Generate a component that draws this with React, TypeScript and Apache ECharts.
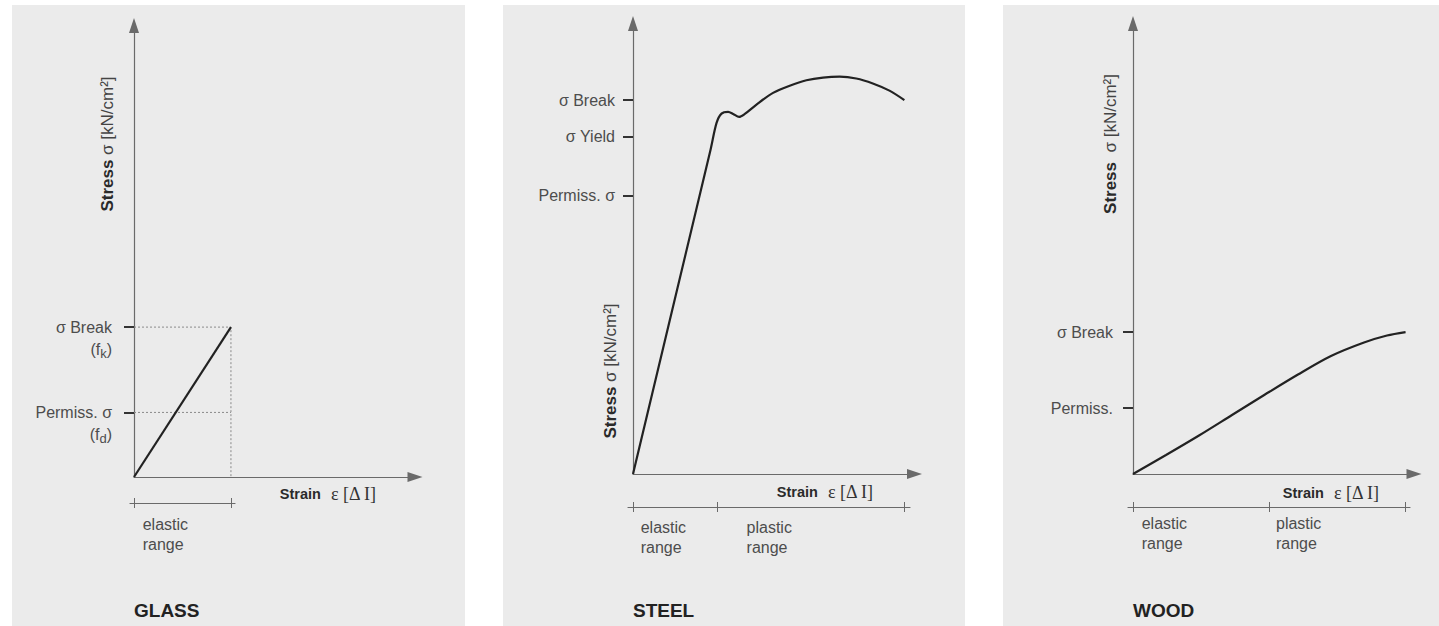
import React, { useEffect, useRef } from "react";
import * as echarts from "echarts";

// ---------------- DATA (normalised units: 0..100 along each drawn axis) ----------------
// GLASS
const glassTickValues = [14.3, 33.2];
const glassTickNames = ["Permiss. σ", "σ Break"];
const glassTickSubs = ["d", "k"];
const glassBreakStrain = 34.5;
const glassCurve: [number, number][] = [
  [0, 0],
  [34.5, 33.2],
];
const glassRangeTicks = [0, 34.5];
const glassRangeNames = ["elastic\nrange"];

// STEEL
const steelTickValues = [61.75, 74.85, 83.0];
const steelTickNames = ["Permiss. σ", "σ Yield", "σ Break"];
const steelCurve: [number, number][] = [
  [0, 0],
  [27.55, 72.0],
  [29.68, 77.93],
  [31.45, 80.0],
  [33.79, 80.38],
  [35.57, 79.93],
  [37.7, 79.27],
  [39.72, 79.93],
  [43.87, 82.0],
  [49.75, 84.6],
  [55.67, 86.2],
  [61.6, 87.4],
  [67.5, 88.0],
  [73.4, 88.2],
  [79.3, 87.8],
  [85.2, 86.7],
  [91.1, 85.1],
  [96.4, 83.0],
];
const steelRangeTicks = [0, 29.9, 96.4];
const steelRangeNames = ["elastic\nrange", "plastic\nrange"];

// WOOD
const woodTickValues = [14.65, 31.5];
const woodTickNames = ["Permiss.", "σ Break"];
const woodCurve: [number, number][] = [
  [0, 0],
  [11.74, 4.22],
  [23.49, 8.55],
  [35.23, 13.1],
  [46.98, 17.65],
  [58.72, 22.09],
  [70.46, 26.19],
  [82.21, 29.19],
  [90.39, 30.74],
  [97.0, 31.5],
];
const woodRangeTicks = [0, 48.5, 97.0];
const woodRangeNames = ["elastic\nrange", "plastic\nrange"];

// ---------------- LAYOUT ----------------
const FONT = "Liberation Sans";
const LABEL_COLOR = "#4d4d4d";
const AXIS_COLOR = "#6a6a6a";
const CURVE_COLOR = "#222222";
const PANEL_BG = "#ebebeb";

type Panel = {
  title: string;
  stressText: string;
  bgX: number;
  bgW: number;
  L: number;
  T: number;
  W: number;
  B: number;
  labelMargin: number;
  barY: number;
  barLeft: number;
  barRight: number;
  rangeLabelOffsets: number[];
  rangeLabelMargin: number;
  strainRight: number;
  strainY: number;
  stressX: number;
  stressY: number;
  ticks: number[];
  tickNames: string[];
  tickSubs?: string[];
  curve: [number, number][];
  smooth: number | boolean;
  rangeTicks: number[];
  rangeNames: string[];
};

const panels: Panel[] = [
  {
    title: "GLASS",
    stressText: "{b|Stress} σ [kN/cm²]",
    bgX: 12,
    bgW: 453,
    L: 134,
    T: 25.5,
    W: 281,
    B: 477,
    labelMargin: 22,
    barY: 503,
    barLeft: 130,
    barRight: 235,
    rangeLabelOffsets: [8.7],
    rangeLabelMargin: 11,
    strainRight: 376,
    strainY: 494,
    stressX: 107.5,
    stressY: 144,
    ticks: glassTickValues,
    tickNames: glassTickNames,
    tickSubs: glassTickSubs,
    curve: glassCurve,
    smooth: false,
    rangeTicks: glassRangeTicks,
    rangeNames: glassRangeNames,
  },
  {
    title: "STEEL",
    stressText: "{b|Stress} σ [kN/cm²]",
    bgX: 503,
    bgW: 462,
    L: 633,
    T: 23.5,
    W: 281.5,
    B: 474,
    labelMargin: 18,
    barY: 507,
    barLeft: 628,
    barRight: 910,
    rangeLabelOffsets: [7.7, 29.4],
    rangeLabelMargin: 10,
    strainRight: 873,
    strainY: 492,
    stressX: 610,
    stressY: 371,
    ticks: steelTickValues,
    tickNames: steelTickNames,
    curve: steelCurve,
    smooth: 0.3,
    rangeTicks: steelRangeTicks,
    rangeNames: steelRangeNames,
  },
  {
    title: "WOOD",
    stressText: "{b|Stress}  σ [kN/cm²]",
    bgX: 1003,
    bgW: 436,
    L: 1133,
    T: 23.5,
    W: 281,
    B: 474,
    labelMargin: 20,
    barY: 507,
    barLeft: 1128,
    barRight: 1410,
    rangeLabelOffsets: [8.7, 6.7],
    rangeLabelMargin: 6,
    strainRight: 1379,
    strainY: 493,
    stressX: 1110,
    stressY: 144,
    ticks: woodTickValues,
    tickNames: woodTickNames,
    curve: woodCurve,
    smooth: 0.3,
    rangeTicks: woodRangeTicks,
    rangeNames: woodRangeNames,
  },
];

function nearestIndex(arr: number[], v: number) {
  let best = 0;
  let d = Infinity;
  arr.forEach((a, i) => {
    const dd = Math.abs(a - v);
    if (dd < d) {
      d = dd;
      best = i;
    }
  });
  return best;
}

function buildOption() {
  const grid: any[] = [];
  const xAxis: any[] = [];
  const yAxis: any[] = [];
  const series: any[] = [];
  const graphic: any[] = [];

  panels.forEach((p, i) => {
    const H = p.B - p.T;
    grid.push({ left: p.L, top: p.T, width: p.W, height: H });
    grid.push({ left: p.barLeft, top: p.barY - 10, width: p.barRight - p.barLeft, height: 10 });

    const mainX = xAxis.length;
    xAxis.push({
      type: "value",
      gridIndex: 2 * i,
      min: 0,
      max: 100,
      axisLine: {
        show: true,
        onZero: false,
        symbol: ["none", "triangle"],
        symbolSize: [10, 15],
        lineStyle: { color: AXIS_COLOR, width: 1.2 },
      },
      axisTick: { show: false },
      axisLabel: { show: false },
      splitLine: { show: false },
    });

    const rMin = ((p.barLeft - p.L) / p.W) * 100;
    const rMax = ((p.barRight - p.L) / p.W) * 100;
    const labelValues = p.rangeNames.map((_, k) => p.rangeTicks[k] + (p.rangeLabelOffsets[k] / p.W) * 100);

    const rangeA = xAxis.length;
    xAxis.push({
      type: "value",
      gridIndex: 2 * i + 1,
      position: "bottom",
      min: rMin,
      max: rMax,
      axisLine: { show: true, onZero: false, lineStyle: { color: AXIS_COLOR, width: 1.2 } },
      axisTick: {
        show: true,
        customValues: p.rangeTicks,
        length: 5,
        inside: false,
        lineStyle: { color: AXIS_COLOR, width: 1 },
      },
      axisLabel: {
        show: true,
        customValues: labelValues,
        formatter: (v: number) => p.rangeNames[nearestIndex(labelValues, v)],
        align: "left",
        verticalAlign: "top",
        margin: p.rangeLabelMargin,
        lineHeight: 20,
        fontSize: 16,
        fontFamily: FONT,
        color: LABEL_COLOR,
      },
      splitLine: { show: false },
    });
    xAxis.push({
      type: "value",
      gridIndex: 2 * i + 1,
      position: "bottom",
      min: rMin,
      max: rMax,
      axisLine: { show: false, onZero: false },
      axisTick: {
        show: true,
        customValues: p.rangeTicks,
        length: 5,
        inside: true,
        lineStyle: { color: AXIS_COLOR, width: 1 },
      },
      axisLabel: { show: false },
      splitLine: { show: false },
    });

    const mainY = yAxis.length;
    const hasSub = !!p.tickSubs;
    yAxis.push({
      type: "value",
      gridIndex: 2 * i,
      min: 0,
      max: 100,
      axisLine: {
        show: true,
        onZero: false,
        symbol: ["none", "triangle"],
        symbolSize: [10, 15],
        lineStyle: { color: AXIS_COLOR, width: 1.2 },
      },
      axisTick: {
        show: true,
        customValues: p.ticks,
        length: 10,
        inside: false,
        lineStyle: { color: "#333333", width: 2 },
      },
      axisLabel: hasSub
        ? {
            show: true,
            customValues: p.ticks,
            margin: p.labelMargin,
            formatter: (v: number) => {
              const k = nearestIndex(p.ticks, v);
              return `{a|${p.tickNames[k]}}\n{b|(f}{s|${p.tickSubs![k]}}{b|)}`;
            },
            padding: [22, 0, 0, 0],
            rich: {
              a: { fontSize: 16, lineHeight: 22, fontFamily: FONT, color: LABEL_COLOR },
              b: { fontSize: 16, lineHeight: 22, fontFamily: FONT, color: LABEL_COLOR },
              s: {
                fontSize: 13,
                lineHeight: 13,
                verticalAlign: "bottom",
                fontFamily: FONT,
                color: LABEL_COLOR,
              },
            },
          }
        : {
            show: true,
            customValues: p.ticks,
            margin: p.labelMargin,
            formatter: (v: number) => p.tickNames[nearestIndex(p.ticks, v)],
            fontSize: 16,
            fontFamily: FONT,
            color: LABEL_COLOR,
          },
      splitLine: { show: false },
    });
    yAxis.push({ type: "value", gridIndex: 2 * i + 1, show: false, min: 0, max: 1 });

    if (p.title === "GLASS") {
      const breakV = p.ticks[1];
      const permV = p.ticks[0];
      series.push({
        type: "line",
        xAxisIndex: mainX,
        yAxisIndex: mainY,
        data: [
          [0, breakV],
          [glassBreakStrain, breakV],
          [glassBreakStrain, 0],
        ],
        symbol: "none",
        silent: true,
        lineStyle: { color: "#8a8a8a", width: 1, type: [2, 2] },
        z: 1,
      });
      series.push({
        type: "line",
        xAxisIndex: mainX,
        yAxisIndex: mainY,
        data: [
          [0, permV],
          [glassBreakStrain, permV],
        ],
        symbol: "none",
        silent: true,
        lineStyle: { color: "#8a8a8a", width: 1, type: [2, 2] },
        z: 1,
      });
    }

    series.push({
      type: "line",
      xAxisIndex: mainX,
      yAxisIndex: mainY,
      data: p.curve,
      symbol: "none",
      smooth: p.smooth,
      silent: true,
      clip: false,
      lineStyle: { color: CURVE_COLOR, width: 2.2 },
      z: 3,
    });

    series.push({
      type: "line",
      xAxisIndex: rangeA,
      yAxisIndex: 2 * i + 1,
      data: [],
      symbol: "none",
      silent: true,
    });

    graphic.push({
      type: "rect",
      z: -100,
      silent: true,
      shape: { x: p.bgX, y: 5, width: p.bgW, height: 630 },
      style: { fill: PANEL_BG },
    });
    graphic.push({
      type: "text",
      x: p.L,
      y: 610,
      silent: true,
      style: {
        text: p.title,
        fill: "#222222",
        fontSize: 19,
        fontWeight: "bold",
        fontFamily: FONT,
        align: "left",
        textAlign: "left",
        verticalAlign: "middle",
        textVerticalAlign: "middle",
      },
    });
    graphic.push({
      type: "text",
      x: p.strainRight,
      y: p.strainY,
      silent: true,
      style: {
        text: "{b|Strain}{s|  ε [Δ I]}",
        fill: "#333333",
        fontSize: 16,
        fontFamily: FONT,
        align: "right",
        textAlign: "right",
        verticalAlign: "middle",
        textVerticalAlign: "middle",
        rich: {
          b: { fontSize: 14.5, fontWeight: "bold", fontFamily: FONT, fill: "#2a2a2a", color: "#2a2a2a" },
          s: { fontSize: 18, fontFamily: "Liberation Serif", fill: "#333333", color: "#333333" },
        },
      },
    });
    graphic.push({
      type: "text",
      x: p.stressX,
      y: p.stressY,
      rotation: Math.PI / 2,
      silent: true,
      style: {
        text: p.stressText,
        fill: "#444444",
        fontSize: 17,
        fontFamily: FONT,
        align: "center",
        textAlign: "center",
        verticalAlign: "middle",
        textVerticalAlign: "middle",
        rich: {
          b: { fontSize: 17, fontWeight: "bold", fontFamily: FONT, fill: "#2a2a2a", color: "#2a2a2a" },
        },
      },
    });
  });

  return {
    animation: false,
    backgroundColor: "#ffffff",
    textStyle: { fontFamily: FONT },
    grid,
    xAxis,
    yAxis,
    series,
    graphic,
  };
}

export default function App() {
  const ref = useRef<HTMLDivElement>(null);
  useEffect(() => {
    if (!ref.current) return;
    const chart = echarts.init(ref.current, undefined, { renderer: "svg" });
    chart.setOption(buildOption() as any);
    return () => chart.dispose();
  }, []);
  return (
    <div
      ref={ref}
      style={{ position: "absolute", left: 0, top: 0, width: 1439, height: 626 }}
    />
  );
}
